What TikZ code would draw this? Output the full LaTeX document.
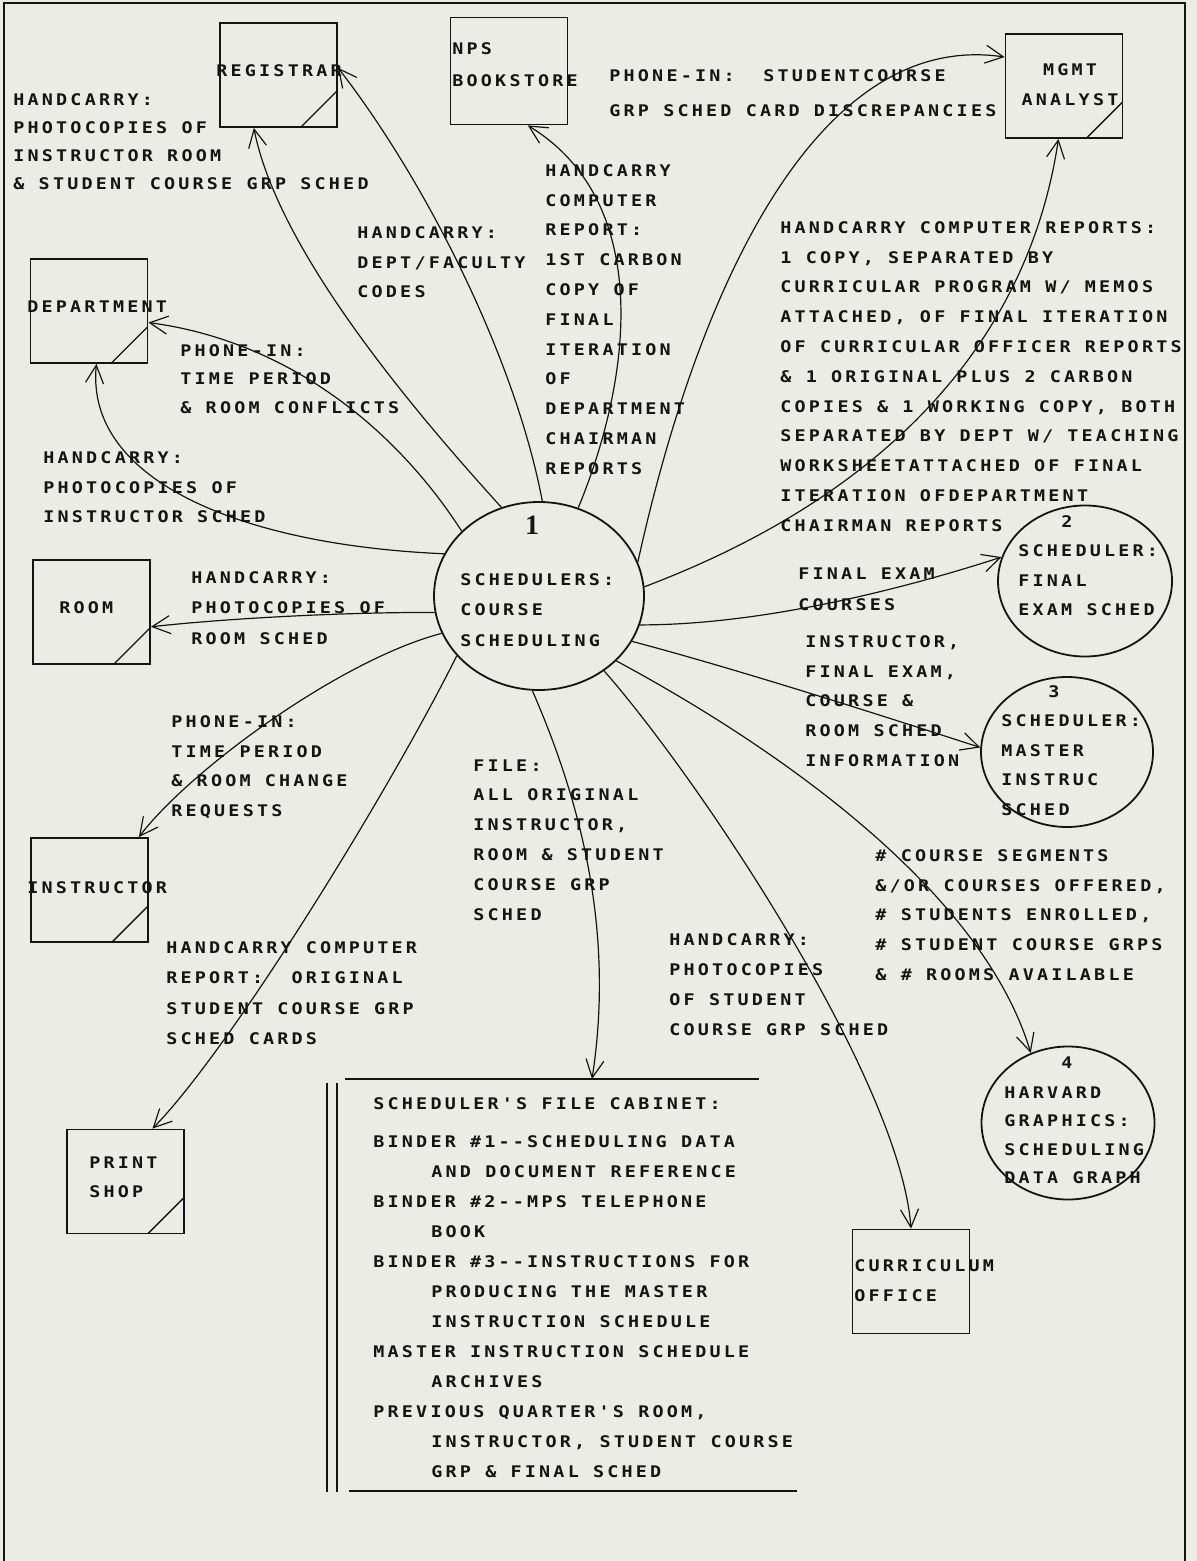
\documentclass[tikz,border=0pt]{standalone}
\usepackage{fontspec}
\usetikzlibrary{arrows.meta, shapes.geometric}
\newfontfamily\dfdFont{DejaVu Sans Mono}[UprightFont=* Bold, Ligatures=TeXOff, FakeStretch=1.15, LetterSpace=20]
\newfontfamily\numFont{Liberation Serif}
\newcommand{\dfd}{\dfdFont\fontsize{8pt}{14.9pt}\selectfont\frenchspacing}
\newcommand{\ind}{\hspace*{29pt}}
\definecolor{colPaper}{RGB}{236,236,231}
\definecolor{colInk}{RGB}{20,20,20}
\tikzset{
  entity/.style={
    rectangle, draw=colInk, line width=0.9pt, inner sep=0pt,
    minimum width=58.5pt, minimum height=52pt
  },
  entityCorner/.style={
    entity,
    path picture={\draw[colInk, line width=0.7pt]
      ([xshift=-18pt]path picture bounding box.south east) -- ++(18pt,18pt);}
  },
  procCircle/.style={
    ellipse, draw=colInk, line width=0.9pt, inner sep=0pt
  },
  flowLabel/.style={
    font=\dfd, text=colInk, align=left, anchor=north west, inner sep=0pt
  },
  procNum/.style={
    font=\dfd, text=colInk, inner sep=0pt
  },
  arr/.style={
    -{Straight Barb[length=9pt, width=9pt]}, line width=0.6pt, draw=colInk
  }
}

\begin{document}
\begin{tikzpicture}[x=0.5pt, y=-0.5pt]

  \fill[colPaper] (0,0) rectangle (1197,1561);
  \useasboundingbox (0,0) rectangle (1197,1561);
  % page frame, open at the bottom
  \draw[colInk, line width=0.9pt] (4,1561) -- (4,3) -- (1185,3) -- (1185,1561);

  % external entities
  \node[entityCorner] (reg) at (278.5,75) {};
  \node[entity, minimum height=53.5pt] (book) at (509,71) {};
  \node[entityCorner] (mgmt) at (1064,86) {};
  \node[entityCorner] (dept) at (89,311) {};
  \node[entityCorner] (room) at (91.5,612) {};
  \node[entityCorner] (instr) at (89.5,890) {};
  \node[entityCorner] (print) at (125.5,1181.5) {};
  \node[entity] (curr) at (911,1281.5) {};

  \node[flowLabel] (regName) at (216,64) {REGISTRAR};
  \node[flowLabel, font={\dfd\baselineskip=16pt}] (bookName) at (452,42) {NPS\\BOOKSTORE};
  \node[flowLabel, align=center, anchor=north] (mgmtName) at (1070,63) {MGMT\\ANALYST};
  \node[flowLabel] (deptName) at (27,300) {DEPARTMENT};
  \node[flowLabel] (roomName) at (59,601) {ROOM};
  \node[flowLabel] (instrName) at (27,881) {INSTRUCTOR};
  \node[flowLabel] (printName) at (89,1156) {PRINT\\SHOP};
  \node[flowLabel] (currName) at (854,1259) {CURRICULUM\\OFFICE};

  % processes
  \node[procCircle, minimum width=105pt, minimum height=94pt] (p1) at (539,596) {};
  \node[procCircle, minimum width=87pt, minimum height=75.5pt] (p2) at (1085,581) {};
  \node[procCircle, minimum width=86pt, minimum height=75pt] (p3) at (1067,752) {};
  \node[procCircle, minimum width=86.5pt, minimum height=76.5pt] (p4) at (1068,1123) {};

  \node[font=\numFont\bfseries\fontsize{14pt}{14pt}\selectfont, text=colInk, inner sep=0pt] (p1Num) at (532,525) {1};
  \node[flowLabel, font={\dfd\baselineskip=15.2pt}] (p1Name) at (460,573) {SCHEDULERS:\\COURSE\\SCHEDULING};
  \node[procNum] (p2Num) at (1067,522) {2};
  \node[flowLabel] (p2Name) at (1018,544) {SCHEDULER:\\FINAL\\EXAM SCHED};
  \node[procNum] (p3Num) at (1054,692) {3};
  \node[flowLabel] (p3Name) at (1001,714) {SCHEDULER:\\MASTER\\INSTRUC\\SCHED};
  \node[procNum] (p4Num) at (1067,1063) {4};
  \node[flowLabel, font={\dfd\baselineskip=14.3pt}] (p4Name) at (1004,1086) {HARVARD\\GRAPHICS:\\SCHEDULING\\DATA GRAPH};

  % file cabinet (data store)
  \draw[colInk, line width=0.9pt] (345,1079) -- (759,1079);
  \draw[colInk, line width=0.9pt] (327,1083) -- (327,1492);
  \draw[colInk, line width=0.9pt] (337,1083) -- (337,1492);
  \draw[colInk, line width=0.9pt] (349,1491) -- (797,1491);
  \coordinate (cabTop) at (592,1079);
  \node[flowLabel, font={\dfd\baselineskip=15pt}] (cabText) at (373,1097) {SCHEDULER'S FILE CABINET:\\[4pt]
    BINDER \#1--SCHEDULING DATA\\\ind AND DOCUMENT REFERENCE\\
    BINDER \#2--MPS TELEPHONE\\\ind BOOK\\
    BINDER \#3--INSTRUCTIONS FOR\\\ind PRODUCING THE MASTER\\\ind INSTRUCTION SCHEDULE\\
    MASTER INSTRUCTION SCHEDULE\\\ind ARCHIVES\\
    PREVIOUS QUARTER'S ROOM,\\\ind INSTRUCTOR, STUDENT COURSE\\\ind GRP \& FINAL SCHED};

  % data flows
  \draw[arr] (p1.88) .. controls (515,357) and (425,180) .. (reg.7);
  \draw[arr] (p1.113) .. controls (414,411) and (278,251) .. (reg.-115);
  \draw[arr] (p1.66) .. controls (635,370) and (650,200) .. (book.-71);
  \draw[arr] (p1.19) .. controls (700,280) and (820,30) .. (mgmt.154);
  \draw[arr] (p1.5) .. controls (900,490) and (1030,330) .. (mgmt.-96);
  \draw[arr] (p1.-16) .. controls (760,625) and (900,590) .. (p2.164);
  \draw[arr] (p1.-26) .. controls (740,670) and (880,715) .. (p3.177);
  \draw[arr] (p1.-40) .. controls (800,760) and (985,900) .. (p4.118);
  \draw[arr] (p1.-49) .. controls (700,780) and (900,1080) .. (curr.north);
  \draw[arr] (p1.-94) .. controls (580,800) and (615,930) .. (cabTop);
  \draw[arr] (p1.216) .. controls (390,790) and (230,1050) .. (print.63);
  \draw[arr] (p1.201) .. controls (340,660) and (190,770) .. (instr.47);
  \draw[arr] (p1.189) .. controls (350,612) and (230,618) .. (room.-14);
  \draw[arr] (p1.156) .. controls (240,545) and (85,480) .. (dept.-82);
  \draw[arr] (p1.140) .. controls (390,420) and (280,340) .. (dept.-11);

  % flow labels
  \node[flowLabel, font={\dfd\baselineskip=14pt}] (lblRegCopies) at (13,93) {HANDCARRY:\\PHOTOCOPIES OF\\INSTRUCTOR ROOM\\\& STUDENT COURSE GRP SCHED};
  \node[flowLabel] (lblRegCodes) at (357,226) {HANDCARRY:\\DEPT/FACULTY\\CODES};
  \node[flowLabel] (lblBook) at (545,164) {HANDCARRY\\COMPUTER\\REPORT:\\1ST CARBON\\COPY OF\\FINAL\\ITERATION\\OF\\DEPARTMENT\\CHAIRMAN\\REPORTS};
  \node[flowLabel, font={\dfd\baselineskip=17.5pt}] (lblMgmtPhone) at (609,69) {PHONE-IN:\ \ STUDENTCOURSE\\GRP SCHED CARD DISCREPANCIES};
  \node[flowLabel] (lblMgmtReports) at (780,221) {HANDCARRY COMPUTER REPORTS:\\1 COPY, SEPARATED BY\\CURRICULAR PROGRAM W/ MEMOS\\ATTACHED, OF FINAL ITERATION\\OF CURRICULAR OFFICER REPORTS\\\& 1 ORIGINAL PLUS 2 CARBON\\COPIES \& 1 WORKING COPY, BOTH\\SEPARATED BY DEPT W/ TEACHING\\WORKSHEETATTACHED OF FINAL\\ITERATION OFDEPARTMENT\\CHAIRMAN REPORTS};
  \node[flowLabel, font={\dfd\baselineskip=14.3pt}] (lblDeptPhone) at (180,344) {PHONE-IN:\\TIME PERIOD\\\& ROOM CONFLICTS};
  \node[flowLabel] (lblDeptCopies) at (43,451) {HANDCARRY:\\PHOTOCOPIES OF\\INSTRUCTOR SCHED};
  \node[flowLabel, font={\dfd\baselineskip=15.3pt}] (lblRoom) at (191,571) {HANDCARRY:\\PHOTOCOPIES OF\\ROOM SCHED};
  \node[flowLabel, font={\dfd\baselineskip=15.5pt}] (lblFinal) at (798,567) {FINAL EXAM\\COURSES};
  \node[flowLabel] (lblMaster) at (805,635) {INSTRUCTOR,\\FINAL EXAM,\\COURSE \&\\ROOM SCHED\\INFORMATION};
  \node[flowLabel] (lblInstr) at (171,715) {PHONE-IN:\\TIME PERIOD\\\& ROOM CHANGE\\REQUESTS};
  \node[flowLabel] (lblFile) at (473,759) {FILE:\\ALL ORIGINAL\\INSTRUCTOR,\\ROOM \& STUDENT\\COURSE GRP\\SCHED};
  \node[flowLabel] (lblGraph) at (875,849) {\# COURSE SEGMENTS\\\&/OR COURSES OFFERED,\\\# STUDENTS ENROLLED,\\\# STUDENT COURSE GRPS\\\& \# ROOMS AVAILABLE};
  \node[flowLabel, font={\dfd\baselineskip=15.2pt}] (lblPrint) at (166,941) {HANDCARRY COMPUTER\\REPORT:\ \ ORIGINAL\\STUDENT COURSE GRP\\SCHED CARDS};
  \node[flowLabel, font={\dfd\baselineskip=15pt}] (lblCurr) at (669,933) {HANDCARRY:\\PHOTOCOPIES\\OF STUDENT\\COURSE GRP SCHED};

\end{tikzpicture}
\end{document}
